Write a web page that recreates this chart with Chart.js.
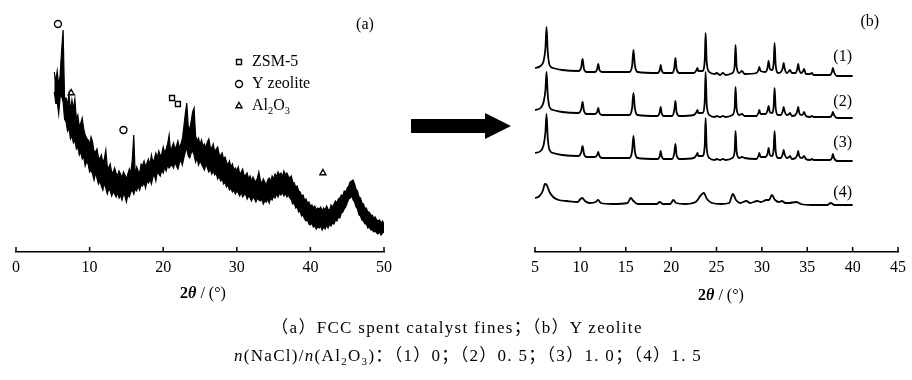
<!DOCTYPE html>
<html>
<head>
<meta charset="utf-8">
<script src="https://cdn.jsdelivr.net/npm/chart.js@4.4.1/dist/chart.umd.min.js"></script>
<style>
html, body { margin: 0; padding: 0; background: #fff; }
#wrap { position: relative; width: 912px; height: 380px; overflow: hidden; font-family: "Liberation Serif", serif; color: #000; }
#chartA { position: absolute; left: 0; top: 0; }
#chartB { position: absolute; left: 460px; top: 0; }
.ttl { position: absolute; font-size: 16px; white-space: nowrap; transform: translate(-50%, -50%); }
.cap { position: absolute; font-size: 17px; letter-spacing: 1.3px; white-space: nowrap; transform: translate(-50%, -50%); font-family: "Liberation Serif", "Noto Sans CJK SC", serif; }
.arrow-body { position: absolute; left: 411px; top: 119px; width: 76px; height: 14px; background: #000; }
.arrow-head { position: absolute; left: 485px; top: 113px; width: 0; height: 0; border-top: 13.5px solid transparent; border-bottom: 13.5px solid transparent; border-left: 26px solid #000; }
</style>
</head>
<body>
<div id="wrap">
  <canvas id="chartA" width="420" height="290"></canvas>
  <canvas id="chartB" width="452" height="290"></canvas>
  <div class="arrow-body"></div>
  <div class="arrow-head"></div>
  <div class="ttl" style="left:203px; top:293px;"><b>2<i>θ</i></b> / (°)</div>
  <div class="ttl" style="left:721px; top:295px;"><b>2<i>θ</i></b> / (°)</div>
  <div class="cap" style="left:457px; top:325px;">（a）FCC spent catalyst fines；（b）Y zeolite</div>
  <div class="cap" style="left:468px; top:354px;"><i>n</i>(NaCl)/<i>n</i>(Al<sub style="font-size:11px">2</sub>O<sub style="font-size:11px">3</sub>)：（1）0；（2）0. 5；（3）1. 0；（4）1. 5</div>
</div>
<script>
// (a) FCC spent catalyst fines: noisy scan, kept as upper / lower edge of the noise band
var anglesA = [5.2, 5.4, 5.6, 5.8, 6.0, 6.2, 6.4, 6.6, 6.8, 7.0, 7.2, 7.4, 7.6, 7.8, 8.0, 8.2, 8.4, 8.6, 8.8, 9.0,
  9.2, 9.4, 9.6, 9.8, 10.0, 10.2, 10.4, 10.6, 10.8, 11.0, 11.2, 11.4, 11.6, 11.8, 12.0, 12.2, 12.4, 12.6, 12.8, 13.0,
  13.2, 13.4, 13.6, 13.8, 14.0, 14.2, 14.4, 14.6, 14.8, 15.0, 15.2, 15.4, 15.6, 15.8, 16.0, 16.2, 16.4, 16.6, 16.8, 17.0,
  17.2, 17.4, 17.6, 17.8, 18.0, 18.2, 18.4, 18.6, 18.8, 19.0, 19.2, 19.4, 19.6, 19.8, 20.0, 20.2, 20.4, 20.6, 20.8, 21.0,
  21.2, 21.4, 21.6, 21.8, 22.0, 22.2, 22.4, 22.6, 22.8, 23.0, 23.2, 23.4, 23.6, 23.8, 24.0, 24.2, 24.4, 24.6, 24.8, 25.0,
  25.2, 25.4, 25.6, 25.8, 26.0, 26.2, 26.4, 26.6, 26.8, 27.0, 27.2, 27.4, 27.6, 27.8, 28.0, 28.2, 28.4, 28.6, 28.8, 29.0,
  29.2, 29.4, 29.6, 29.8, 30.0, 30.2, 30.4, 30.6, 30.8, 31.0, 31.2, 31.4, 31.6, 31.8, 32.0, 32.2, 32.4, 32.6, 32.8, 33.0,
  33.2, 33.4, 33.6, 33.8, 34.0, 34.2, 34.4, 34.6, 34.8, 35.0, 35.2, 35.4, 35.6, 35.8, 36.0, 36.2, 36.4, 36.6, 36.8, 37.0,
  37.2, 37.4, 37.6, 37.8, 38.0, 38.2, 38.4, 38.6, 38.8, 39.0, 39.2, 39.4, 39.6, 39.8, 40.0, 40.2, 40.4, 40.6, 40.8, 41.0,
  41.2, 41.4, 41.6, 41.8, 42.0, 42.2, 42.4, 42.6, 42.8, 43.0, 43.2, 43.4, 43.6, 43.8, 44.0, 44.2, 44.4, 44.6, 44.8, 45.0,
  45.2, 45.4, 45.6, 45.8, 46.0, 46.2, 46.4, 46.6, 46.8, 47.0, 47.2, 47.4, 47.6, 47.8, 48.0, 48.2, 48.4, 48.6, 48.8, 49.0,
  49.2, 49.4, 49.6, 49.8, 50.0];
var upperA = [180, 171, 181, 166, 177, 202, 222, 153, 154, 147, 158, 141, 152, 143, 153, 133, 137, 125, 129, 134,
  123, 117, 114, 112, 108, 115, 110, 101, 100, 103, 95, 93, 97, 90, 93, 102, 86, 84, 88, 80,
  80, 84, 79, 76, 81, 78, 74, 80, 77, 73, 78, 83, 79, 92, 117, 76, 85, 81, 79, 88,
  86, 91, 85, 89, 93, 87, 97, 90, 93, 99, 94, 101, 96, 98, 105, 99, 103, 108, 117, 100,
  105, 109, 103, 106, 111, 104, 108, 113, 125, 138, 149, 126, 122, 131, 140, 144, 116, 111, 114, 107,
  112, 106, 108, 104, 110, 113, 105, 104, 108, 100, 103, 105, 98, 96, 99, 93, 95, 90, 87, 91,
  85, 88, 82, 84, 81, 85, 78, 80, 83, 76, 77, 79, 73, 76, 71, 75, 72, 70, 74, 80,
  72, 68, 73, 70, 67, 72, 74, 70, 76, 73, 78, 75, 80, 77, 79, 75, 81, 77, 79, 76,
  74, 76, 70, 69, 65, 66, 61, 60, 56, 57, 52, 53, 49, 50, 46, 47, 44, 46, 42, 44,
  43, 45, 41, 44, 42, 46, 43, 41, 47, 45, 48, 51, 49, 53, 54, 57, 56, 61, 60, 64,
  66, 70, 71, 72, 68, 63, 61, 55, 54, 49, 48, 44, 44, 40, 40, 37, 37, 34, 35, 32,
  31, 32, 29, 31, 28];
var lowerA = [160, 149, 150, 138, 155, 156, 150, 133, 130, 121, 124, 113, 116, 109, 112, 103, 105, 97, 100, 93,
  95, 86, 90, 88, 80, 82, 78, 72, 79, 74, 68, 71, 66, 62, 69, 64, 58, 63, 61, 56,
  60, 58, 55, 59, 54, 57, 52, 58, 56, 50, 57, 55, 60, 62, 58, 63, 61, 66, 62, 67,
  66, 70, 64, 71, 69, 73, 68, 75, 77, 71, 80, 78, 76, 82, 79, 85, 81, 87, 84, 86,
  87, 84, 90, 86, 83, 89, 92, 87, 94, 100, 104, 96, 94, 99, 101, 97, 90, 94, 87, 91,
  88, 85, 82, 88, 84, 80, 83, 78, 81, 77, 79, 73, 76, 71, 73, 68, 70, 65, 67, 62,
  64, 60, 62, 58, 61, 59, 56, 60, 55, 57, 58, 53, 56, 54, 51, 55, 53, 50, 54, 52,
  51, 53, 48, 51, 50, 53, 49, 54, 52, 56, 54, 58, 55, 59, 57, 60, 56, 59, 55, 57,
  54, 52, 48, 49, 44, 45, 40, 41, 36, 37, 33, 31, 32, 28, 27, 29, 25, 26, 23, 25,
  24, 26, 22, 25, 23, 27, 24, 28, 26, 29, 28, 32, 31, 35, 34, 39, 40, 43, 45, 49,
  53, 54, 56, 52, 50, 45, 43, 37, 36, 32, 31, 28, 28, 24, 25, 22, 22, 20, 21, 19,
  18, 20, 17, 19, 20];

// phase marks in (a)
var zsmAngles = [21.2, 22.0];
var zsmCounts = [154, 148];
var yzAngles = [5.7, 14.6];
var yzCounts = [228, 122];
var aloAngles = [7.5, 41.7];
var aloCounts = [159, 79];

// (b) Y zeolite, NaCl/Al2O3 = 0, 0.5, 1.0
var anglesB = [5.0, 5.6, 5.95, 6.15, 6.27, 6.4, 6.6, 7.0, 8.0, 9.8, 10.1, 10.24, 10.4, 10.7, 11.6, 11.85, 11.97, 12.1, 12.4,
  15.4, 15.7, 15.85, 16.0, 16.3, 18.5, 18.75, 18.85, 18.95, 19.2, 20.1, 20.35, 20.47, 20.6, 20.9,
  22.5, 22.8, 22.9, 23.0, 23.45, 23.7, 23.8, 23.92, 24.2, 24.8, 25.0, 25.4, 25.7, 26.0,
  26.75, 27.0, 27.1, 27.22, 27.5, 27.8, 28.1, 29.4, 29.62, 29.72, 29.85, 30.4, 30.64, 30.74, 30.88,
  31.1, 31.3, 31.4, 31.52, 31.8, 32.1, 32.3, 32.4, 32.5, 32.75, 33.0, 33.1, 33.3, 33.7, 33.9, 34.0, 34.12,
  34.35, 34.55, 34.65, 34.85, 35.3, 35.5, 35.7, 37.5, 37.72, 37.82, 37.95, 38.3, 40.0];
var counts1 = [8, 10, 15, 28, 49, 25, 11, 8, 6, 5, 9, 17, 7, 4, 4, 7, 12, 6, 4,
  4, 10, 26, 11, 4, 3, 6, 11, 6, 3, 3, 8, 18, 7, 3,
  3, 6, 8, 5, 5, 15, 43, 14, 4, 2, 3, 1, 3, 1,
  3, 10, 31, 9, 3, 5, 2, 3, 6, 9, 5, 4, 9, 15, 7,
  6, 13, 33, 11, 3, 4, 8, 13, 8, 3, 5, 6, 3, 3, 7, 12, 6,
  3, 5, 7, 2, 2, 3, 1, 1, 4, 8, 4, 0, 0];
var counts2 = [8, 10, 16, 28, 46, 24, 11, 8, 6, 5, 9, 16, 7, 4, 4, 6, 10, 5, 3,
  3, 10, 25, 10, 3, 2, 6, 11, 5, 2, 2, 8, 17, 6, 2,
  3, 6, 8, 5, 5, 16, 46, 14, 3, 1, 2, 1, 2, 1,
  3, 10, 31, 9, 3, 4, 2, 2, 5, 8, 4, 4, 8, 12, 6,
  5, 12, 30, 10, 3, 3, 7, 11, 7, 3, 4, 5, 2, 3, 7, 11, 5,
  3, 4, 6, 2, 1, 2, 1, 1, 3, 6, 3, 0, 0];
var counts3 = [8, 10, 16, 29, 47, 24, 11, 8, 6, 5, 9, 15, 7, 4, 4, 6, 9, 5, 3,
  3, 10, 25, 10, 3, 2, 5, 10, 5, 2, 2, 8, 17, 6, 2,
  3, 6, 8, 5, 5, 15, 43, 13, 3, 1, 2, 1, 2, 1,
  3, 10, 30, 9, 3, 4, 3, 2, 5, 8, 4, 4, 8, 13, 6,
  5, 12, 30, 10, 3, 3, 7, 11, 7, 3, 4, 5, 2, 3, 6, 10, 5,
  3, 4, 5, 2, 1, 2, 1, 1, 3, 7, 3, 0, 0];

// (b) NaCl/Al2O3 = 1.5, broader and weaker
var angles4 = [5.0, 5.5, 5.85, 6.1, 6.3, 6.6, 7.0, 7.6, 8.5, 9.7, 10.0, 10.2, 10.5, 11.0, 11.7, 11.95, 12.25, 13.5,
  15.2, 15.55, 15.85, 16.3, 18.4, 18.75, 19.1, 19.9, 20.25, 20.55, 21.5, 22.7, 23.3, 23.6, 23.95, 24.5, 25.5,
  26.4, 26.8, 27.15, 27.6, 28.3, 28.7, 29.5, 29.9, 30.5, 30.8, 31.1, 31.45, 31.9, 32.2, 32.6, 33.0, 33.8, 34.3,
  35.5, 37.2, 37.6, 38.0, 40.0];
var counts4 = [7, 9, 14, 21, 20, 13, 8, 5, 4, 3, 6, 7, 4, 2, 3, 5, 2, 1,
  2, 7, 4, 1, 1, 3, 1, 1, 5, 2, 1, 3, 10, 12, 6, 2, 1,
  2, 11, 5, 2, 4, 2, 4, 3, 5, 5, 10, 5, 3, 4, 2, 2, 3, 1,
  0, 0, 2, 0, 0];

var tickFont = { family: "Liberation Serif", size: 16 };

function pts(xs, ys, off) {
  var out = [];
  for (var i = 0; i < xs.length; i++) out.push({ x: xs[i], y: ys[i] + (off || 0) });
  return out;
}

// ticks in this figure point up into the plot
var inwardTicks = {
  id: 'inwardTicks',
  afterDraw: function(chart) {
    var ctx = chart.ctx, sx = chart.scales.x;
    ctx.save();
    ctx.strokeStyle = '#000';
    ctx.lineWidth = 1.5;
    sx.ticks.forEach(function(t) {
      var p = sx.getPixelForValue(t.value);
      ctx.beginPath();
      ctx.moveTo(p, sx.top);
      ctx.lineTo(p, sx.top - 5);
      ctx.stroke();
    });
    ctx.restore();
  }
};

function subText(ctx, parts, x, y, size) {
  // parts: [text, isSub]
  parts.forEach(function(p) {
    ctx.font = (p[1] ? size * 0.65 : size) + 'px "Liberation Serif"';
    ctx.fillText(p[0], x, y + (p[1] ? size * 0.3 : 0));
    x += ctx.measureText(p[0]).width;
  });
}

var legendA = {
  id: 'legendA',
  afterDraw: function(chart) {
    var ctx = chart.ctx;
    var x0 = 239, rows = [
      { style: 'rect', y: 62, parts: [['ZSM-5', false]] },
      { style: 'circle', y: 84, parts: [['Y zeolite', false]] },
      { style: 'triangle', y: 106, parts: [['Al', false], ['2', true], ['O', false], ['3', true]] }
    ];
    ctx.save();
    ctx.textBaseline = 'middle';
    rows.forEach(function(r) {
      ctx.strokeStyle = '#000';
      ctx.lineWidth = 1.4;
      ctx.fillStyle = '#fff';
      Chart.helpers.drawPoint(ctx, { pointStyle: r.style, radius: 3.5, borderWidth: 1.4 }, x0, r.y);
      ctx.fillStyle = '#000';
      subText(ctx, r.parts, x0 + 13, r.y, 16);
    });
    ctx.font = '16px "Liberation Serif"';
    ctx.textAlign = 'center';
    ctx.fillText('(a)', 365, 25);
    ctx.restore();
  }
};

var labelsB = {
  id: 'labelsB',
  afterDraw: function(chart) {
    var ctx = chart.ctx, sx = chart.scales.x, sy = chart.scales.y;
    var names = ['(1)', '(2)', '(3)', '(4)'];
    var at = [195, 150, 109, 59];
    ctx.save();
    ctx.fillStyle = '#000';
    ctx.font = '16px "Liberation Serif"';
    ctx.textAlign = 'center';
    ctx.textBaseline = 'middle';
    for (var i = 0; i < names.length; i++) {
      ctx.fillText(names[i], sx.getPixelForValue(38.9), sy.getPixelForValue(at[i]));
    }
    ctx.fillText('(b)', sx.getPixelForValue(41.9), 22);
    ctx.restore();
  }
};

function xAxis(min, max, step) {
  return {
    type: 'linear', min: min, max: max,
    ticks: { stepSize: step, autoSkip: false, maxRotation: 0, color: '#000', font: tickFont, padding: 6 },
    grid: { display: false, drawTicks: false },
    border: { display: true, color: '#000', width: 1.5 },
    afterFit: function(s) { s.height = 28; }
  };
}

function markSet(xs, ys, style) {
  return {
    type: 'scatter', data: pts(xs, ys), pointStyle: style, pointRadius: 3.5,
    pointBackgroundColor: '#fff', pointBorderColor: '#000', pointBorderWidth: 1.4, showLine: false
  };
}

new Chart(document.getElementById('chartA'), {
  type: 'line',
  data: {
    datasets: [
      { data: pts(anglesA, upperA), borderColor: '#000', backgroundColor: '#000', borderWidth: 1.2, pointRadius: 0, tension: 0, fill: '+1' },
      { data: pts(anglesA, lowerA), borderColor: '#000', borderWidth: 1.2, pointRadius: 0, tension: 0, fill: false },
      markSet(zsmAngles, zsmCounts, 'rect'),
      markSet(yzAngles, yzCounts, 'circle'),
      markSet(aloAngles, aloCounts, 'triangle')
    ]
  },
  options: {
    responsive: false, animation: false,
    layout: { padding: { left: 16, right: 36, top: 10, bottom: 10 } },
    plugins: { legend: { display: false }, tooltip: { enabled: false } },
    scales: {
      x: xAxis(0, 50, 10),
      y: { display: false, min: 0, max: 242 }
    }
  },
  plugins: [inwardTicks, legendA]
});

var lineB = { borderColor: '#000', borderWidth: 1.8, pointRadius: 0, cubicInterpolationMode: 'monotone' };

new Chart(document.getElementById('chartB'), {
  type: 'line',
  data: {
    datasets: [
      Object.assign({ data: pts(anglesB, counts1, 176) }, lineB),
      Object.assign({ data: pts(anglesB, counts2, 134) }, lineB),
      Object.assign({ data: pts(anglesB, counts3, 91) }, lineB),
      Object.assign({ data: pts(angles4, counts4, 47) }, lineB)
    ]
  },
  options: {
    responsive: false, animation: false,
    layout: { padding: { left: 75, right: 9, top: 10, bottom: 10 } },
    plugins: { legend: { display: false }, tooltip: { enabled: false } },
    scales: {
      x: xAxis(5, 45, 5),
      y: { display: false, min: 0, max: 242 }
    }
  },
  plugins: [inwardTicks, labelsB]
});
</script>
</body>
</html>
